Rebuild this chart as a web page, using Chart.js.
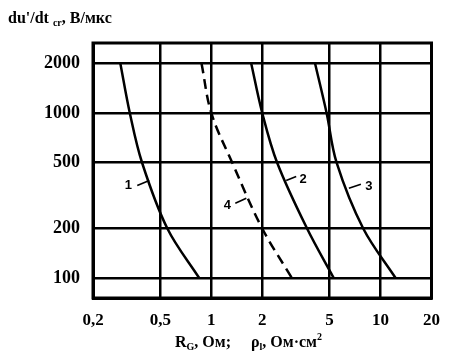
<!DOCTYPE html>
<html>
<head>
<meta charset="utf-8">
<script src="https://cdn.jsdelivr.net/npm/chart.js@4.4.0/dist/chart.umd.min.js"></script>
<style>
    html, body { margin: 0; padding: 0; background: #fff; }
    #wrap { width: 452px; height: 355px; }
</style>
</head>
<body>
<div id="wrap"><canvas id="myChart"></canvas></div>
<script>
// data
const xTicks = [0.2, 0.5, 1, 2, 5, 10, 20];
const yTicks = [100, 200, 500, 1000, 2000];

const curve1X = [0.29, 0.33, 0.39, 0.55, 0.85];
const curve1Y = [2000, 1000, 500, 200, 100];
const curve2X = [1.72, 2.0, 2.45, 3.68, 5.3];
const curve2Y = [2000, 1000, 500, 200, 100];
const curve3X = [4.1, 4.8, 5.5, 7.9, 12.3];
const curve3Y = [2000, 1000, 500, 200, 100];
const curve4X = [0.875, 1.0, 1.33, 2.0, 3.0];
const curve4Y = [2000, 1000, 500, 200, 100];

const curveNames = ['1', '2', '3', '4'];
const labelAnchorX = [0.43, 2.77, 6.5, 1.61];
const labelAnchorY = [390, 390, 350, 305];

function pts(xs, ys) {
    return xs.map((x, i) => ({ x: x, y: ys[i] }));
}

// leader line end / text offsets in pixels from the anchor
const leaderOff = [[-12, 5], [10, -4], [12, -4], [-11, 5]];
const textOff = [[-21, 5], [17, -1], [20, -2], [-19, 7]];

const serif = '"Liberation Serif", "Times New Roman", serif';
const sans = '"Liberation Sans", Arial, sans-serif';

const textPlugin = {
    id: 'texts',
    afterDraw(chart) {
        const ctx = chart.ctx;
        const a = chart.chartArea;
        const xs = chart.scales.x, ys = chart.scales.y;
        ctx.save();
        // frame
        ctx.strokeStyle = '#000';
        ctx.lineWidth = 3;
        ctx.strokeRect(a.left, a.top, a.right - a.left, a.bottom - a.top);

        // curve labels
        ctx.lineWidth = 1.6;
        ctx.fillStyle = '#000';
        ctx.font = 'bold 13px ' + sans;
        ctx.textAlign = 'center';
        ctx.textBaseline = 'middle';
        curveNames.forEach((n, i) => {
            const px = xs.getPixelForValue(labelAnchorX[i]);
            const py = ys.getPixelForValue(labelAnchorY[i]);
            ctx.beginPath();
            ctx.moveTo(px, py);
            ctx.lineTo(px + leaderOff[i][0], py + leaderOff[i][1]);
            ctx.stroke();
            ctx.fillText(n, px + textOff[i][0], py + textOff[i][1]);
        });

        // y axis title
        ctx.textAlign = 'left';
        ctx.textBaseline = 'alphabetic';
        let x = 8;
        const put = (t, font, dy) => {
            ctx.font = font;
            ctx.fillText(t, x, dy);
            x += ctx.measureText(t).width;
        };
        put("du'/dt ", 'bold 16px ' + serif, 23);
        put('cr', 'bold 10px ' + serif, 26);
        put(', В/мкс', 'bold 16px ' + serif, 23);

        // x axis title
        x = 175;
        put('R', 'bold 16px ' + serif, 347);
        put('G', 'bold 10px ' + serif, 350);
        put(', Ом;', 'bold 16px ' + serif, 347);
        x = 251;
        put('ρ', 'bold 16px ' + serif, 347);
        put('l', 'bold 10px ' + serif, 350);
        put(', Ом·см', 'bold 16px ' + serif, 347);
        put('2', 'bold 10px ' + serif, 340);
        ctx.restore();
    }
};

const data = {
    datasets: [
        { data: pts(curve1X, curve1Y) },
        { data: pts(curve2X, curve2Y) },
        { data: pts(curve3X, curve3Y) },
        { data: pts(curve4X, curve4Y), borderDash: [10, 6] }
    ].map(d => Object.assign({
        borderColor: '#000',
        borderWidth: 2.5,
        pointRadius: 0,
        fill: false,
        tension: 0.35
    }, d))
};

const config = {
    type: 'line',
    data,
    plugins: [textPlugin],
    options: {
        responsive: true,
        maintainAspectRatio: false,
        animation: false,
        layout: { padding: { top: 43, right: 19, bottom: 0, left: 0 } },
        plugins: { legend: { display: false }, tooltip: { enabled: false } },
        scales: {
            x: {
                type: 'logarithmic',
                min: 0.2,
                max: 20,
                afterBuildTicks: s => { s.ticks = xTicks.map(v => ({ value: v })); },
                afterFit: s => { s.height = 57; },
                grid: { color: '#000', lineWidth: 2.5, drawTicks: false },
                border: { color: '#000', width: 3 },
                ticks: {
                    autoSkip: false,
                    maxRotation: 0,
                    padding: 12,
                    color: '#000',
                    font: { family: serif, size: 17, weight: 'bold' },
                    callback: v => String(v).replace('.', ',')
                }
            },
            y: {
                type: 'logarithmic',
                min: 76,
                max: 2650,
                afterBuildTicks: s => { s.ticks = yTicks.map(v => ({ value: v })); },
                afterFit: s => { s.width = 93; },
                grid: { color: '#000', lineWidth: 2.5, drawTicks: false },
                border: { color: '#000', width: 3 },
                ticks: {
                    autoSkip: false,
                    padding: 13,
                    color: '#000',
                    font: { family: serif, size: 18, weight: 'bold' },
                    callback: v => String(v)
                }
            }
        }
    }
};

const myChart = new Chart(document.getElementById('myChart'), config);
</script>
</body>
</html>
